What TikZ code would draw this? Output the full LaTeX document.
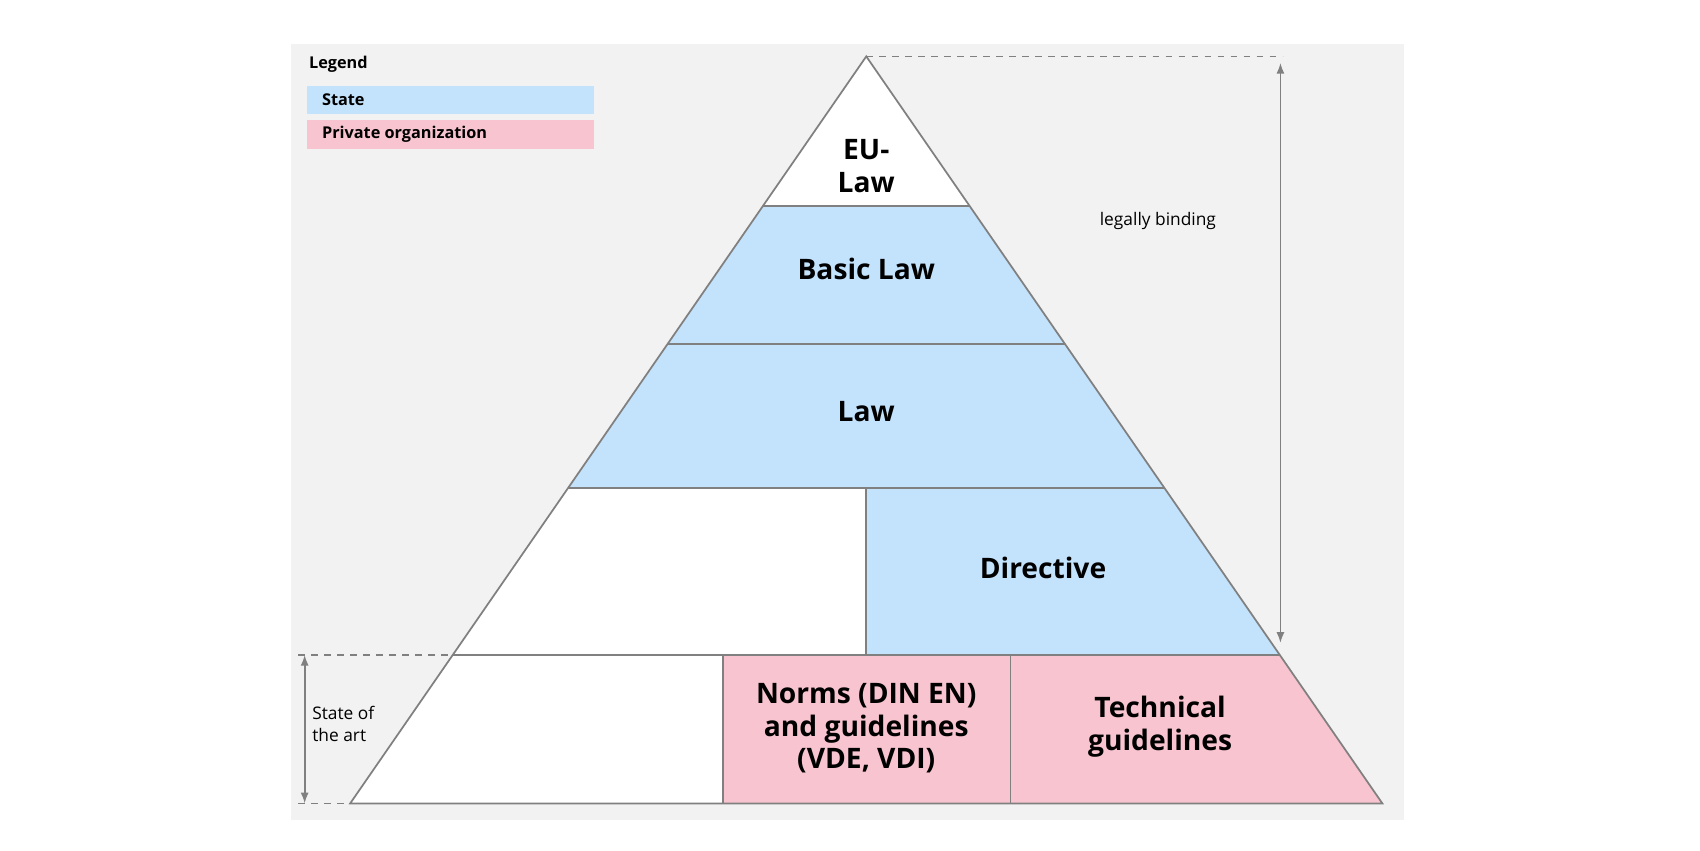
\documentclass[tikz,border=0pt]{standalone}
\usepackage{fontspec}
\setmainfont{Open Sans}
\usetikzlibrary{arrows.meta}
\definecolor{stateblue}{HTML}{C3E2FB}
\definecolor{privpink}{HTML}{F7C4CF}
\definecolor{bggray}{HTML}{F2F2F2}
\definecolor{ln}{HTML}{808080}
\tikzset{
  lbl/.style={font=\bfseries\fontsize{13}{15}\selectfont, align=center},
  small/.style={font=\fontsize{8}{10}\selectfont, align=left},
  leg/.style={font=\bfseries\fontsize{7.5}{9}\selectfont, anchor=west},
  edge/.style={draw=ln, line width=0.8pt},
  dim/.style={draw=ln, line width=0.8pt, dashed},
  arr/.style={draw=ln, line width=0.8pt, {Latex[length=5pt]}-{Latex[length=5pt]}}
}
\begin{document}
\begin{tikzpicture}[x=0.5pt,y=-0.5pt]
\useasboundingbox (0,0) rectangle (1568,784);
\fill[bggray] (268,41) rectangle (1295,756);
% legend
\node[leg] (legend) at (278,59) {Legend};
\fill[stateblue] (283,79) rectangle (548,105);
\node[leg] (lstate) at (290,92) {State};
\fill[privpink] (283,111) rectangle (548,137);
\node[leg] (lpriv) at (290,124) {Private organization};
% pyramid
\coordinate (A) at (799,52);
\coordinate (L) at (323,741);
\coordinate (R) at (1275,741);
\begin{scope}
\clip (A) -- (L) -- (R) -- cycle;
\fill[white] (300,40) rectangle (1300,190);
\fill[stateblue] (300,190) rectangle (1300,450);
\fill[white] (300,450) rectangle (799,604);
\fill[stateblue] (799,450) rectangle (1300,604);
\fill[white] (300,604) rectangle (667,741);
\fill[privpink] (667,604) rectangle (1300,741);
\draw[edge] (300,190) -- (1300,190);
\draw[edge] (300,317) -- (1300,317);
\draw[edge] (300,450) -- (1300,450);
\draw[edge] (300,604) -- (1300,604);
\draw[edge] (799,450) -- (799,604);
\draw[edge] (667,604) -- (667,741);
\draw[edge] (932,604) -- (932,741);
\end{scope}
\draw[edge, line join=miter] (A) -- (L) -- (R) -- cycle;
% labels
\node[lbl] (eu) at (799,153) {EU-\\Law};
\node[lbl] (basic) at (799,248) {Basic Law};
\node[lbl] (law) at (799,380) {Law};
\node[lbl] (dir) at (962,524) {Directive};
\node[lbl] (norms) at (799,672) {Norms (DIN EN)\\and guidelines\\(VDE, VDI)};
\node[lbl] (tech) at (1070,670) {Technical\\guidelines};
% right dimension
\coordinate (rt) at (1183,52);
\coordinate (rtop) at (1181,58);
\coordinate (rbot) at (1181,593);
\draw[dim] (A) -- (rt);
\draw[arr] (rtop) -- (rbot);
\node[small] (lb) at (1068,204) {legally binding};
% left dimension
\coordinate (l1) at (275,604);
\coordinate (l1e) at (413,604);
\coordinate (l2) at (275,741);
\draw[dim] (l1) -- (l1e);
\draw[dim] (l2) -- (L);
\coordinate (la) at (281,604);
\coordinate (lb2) at (281,741);
\draw[arr] (la) -- (lb2);
\node[small, anchor=west] (sota) at (281,668) {State of\\the art};
\end{tikzpicture}
\end{document}
